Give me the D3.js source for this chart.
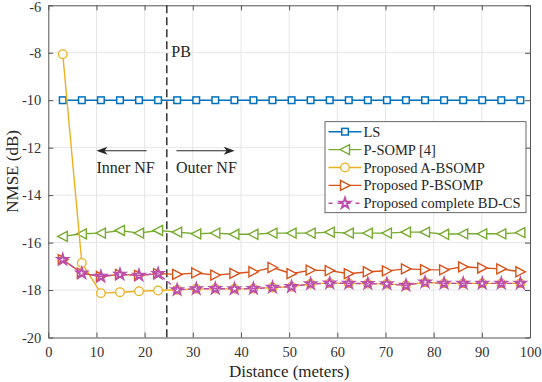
<!DOCTYPE html>
<html>
<head>
<meta charset="utf-8">
<script src="https://cdn.jsdelivr.net/npm/d3@7"></script>
<style>
  body { margin: 0; background: #fff; }
  svg, svg text { font-family: "Liberation Serif", "Times New Roman", Times, "Nimbus Roman", "DejaVu Serif", serif !important; }
</style>
</head>
<body>
<svg></svg>
<script>
// distance samples (meters)
const distance = [3, 6.96, 10.92, 14.88, 18.83, 22.79, 26.75, 30.71, 34.67, 38.63, 42.58, 46.54, 50.5,
                  54.46, 58.42, 62.38, 66.33, 70.29, 74.25, 78.21, 82.17, 86.13, 90.08, 94.04, 98]

// NMSE (dB) per method
const ls    = [-10, -10, -10, -10, -10, -10, -10, -10, -10, -10, -10, -10, -10,
               -10, -10, -10, -10, -10, -10, -10, -10, -10, -10, -10, -10]
const psomp = [-15.74, -15.63, -15.60, -15.49, -15.60, -15.49, -15.56, -15.63, -15.60, -15.65, -15.65, -15.60, -15.60,
               -15.60, -15.56, -15.60, -15.60, -15.60, -15.56, -15.56, -15.65, -15.63, -15.63, -15.63, -15.58]
const absomp = [-8.06, -16.86, -18.13, -18.09, -18.05, -18.02, -17.99, -17.95, -17.94, -17.95, -17.94, -17.89, -17.86,
                -17.74, -17.71, -17.72, -17.73, -17.74, -17.80, -17.67, -17.72, -17.72, -17.72, -17.72, -17.72]
const pbsomp = [-16.72, -17.29, -17.43, -17.34, -17.38, -17.31, -17.34, -17.28, -17.37, -17.30, -17.23, -17.05, -17.31,
                -17.16, -17.18, -17.31, -17.23, -17.19, -17.11, -17.14, -17.15, -17.02, -17.07, -17.11, -17.23]
const bdcs  = [-16.72, -17.29, -17.43, -17.34, -17.38, -17.31, -17.99, -17.95, -17.94, -17.95, -17.94, -17.89, -17.86,
               -17.74, -17.71, -17.72, -17.73, -17.74, -17.80, -17.67, -17.72, -17.72, -17.72, -17.72, -17.72]

const seriesNames = ["LS", "P-SOMP [4]", "Proposed A-BSOMP", "Proposed P-BSOMP", "Proposed complete BD-CS"]

const xTicks = [0, 10, 20, 30, 40, 50, 60, 70, 80, 90, 100]
const yTicks = [-20, -18, -16, -14, -12, -10, -8, -6]

// annotation positions in data units
const pbDistance = 24.6
const arrowY = -12.13
const innerArrow = [20.4, 10.0]
const outerArrow = [26.6, 38.7]

const width = 542, height = 382
const margin = {top: 5.3, right: 12, bottom: 44.5, left: 48.3}

const svg = d3.select("svg").attr("width", width).attr("height", height)

const x = d3.scaleLinear().domain([0, 100]).range([margin.left, width - margin.right])
const y = d3.scaleLinear().domain([-20, -6]).range([height - margin.bottom, margin.top])

const styles = [
  {color: "#0072BD", marker: "square", dash: null},
  {color: "#77AC30", marker: "left", dash: null},
  {color: "#EDB120", marker: "circle", dash: null},
  {color: "#D95319", marker: "right", dash: null},
  {color: "#BC4FAB", marker: "star", dash: "5,3"}
]
const values = [ls, psomp, absomp, pbsomp, bdcs]

// grid
svg.append("g")
  .selectAll("line")
  .data(xTicks.slice(1, -1))
  .join("line")
    .attr("x1", d => x(d)).attr("x2", d => x(d))
    .attr("y1", y(-20)).attr("y2", y(-6))
    .attr("stroke", "#e6e6e6")
svg.append("g")
  .selectAll("line")
  .data(yTicks.slice(1, -1))
  .join("line")
    .attr("x1", x(0)).attr("x2", x(100))
    .attr("y1", d => y(d)).attr("y2", d => y(d))
    .attr("stroke", "#e6e6e6")

// axes (inward ticks, box all around)
const fmt = d => String(d)
const axisStyle = g => {
  g.attr("font-family", null)
  g.select(".domain").attr("stroke", "#555")
  g.selectAll(".tick line").attr("stroke", "#555")
  g.selectAll(".tick text").attr("fill", "#333").style("font-size", "14.5px")
}
svg.append("g").attr("transform", `translate(0,${y(-20)})`)
  .call(d3.axisBottom(x).tickValues(xTicks).tickFormat(fmt).tickSizeInner(-5).tickSizeOuter(0).tickPadding(9))
  .call(axisStyle)
svg.append("g").attr("transform", `translate(0,${y(-6)})`)
  .call(d3.axisTop(x).tickValues(xTicks).tickFormat("").tickSizeInner(-5).tickSizeOuter(0))
  .call(axisStyle)
svg.append("g").attr("transform", `translate(${x(0)},0)`)
  .call(d3.axisLeft(y).tickValues(yTicks).tickFormat(fmt).tickSizeInner(-5).tickSizeOuter(0).tickPadding(7))
  .call(axisStyle)
  .call(g => g.selectAll(".tick text").filter(d => d === -6).attr("dy", "0.42em"))
svg.append("g").attr("transform", `translate(${x(100)},0)`)
  .call(d3.axisRight(y).tickValues(yTicks).tickFormat("").tickSizeInner(-5).tickSizeOuter(0))
  .call(axisStyle)

// axis labels
svg.append("text")
  .attr("x", (x(0) + x(100)) / 2).attr("y", 377)
  .attr("text-anchor", "middle").attr("fill", "#262626")
  .style("font-size", "17px")
  .text("Distance (meters)")
svg.append("text")
  .attr("transform", `translate(18,${(y(-20) + y(-6)) / 2}) rotate(-90)`)
  .attr("text-anchor", "middle").attr("fill", "#262626")
  .style("font-size", "17px")
  .text("NMSE (dB)")

// PB boundary + annotations
svg.append("line")
  .attr("x1", x(pbDistance)).attr("x2", x(pbDistance))
  .attr("y1", y(-6)).attr("y2", y(-20))
  .attr("stroke", "#333").attr("stroke-width", 1.5).attr("stroke-dasharray", "8,4")
svg.append("text")
  .attr("x", x(pbDistance) + 4.5).attr("y", 56.7)
  .attr("fill", "#262626").style("font-size", "16px")
  .text("PB")

const arrow = (from, to) => {
  const x0 = x(from), x1 = x(to), yy = y(arrowY), dir = Math.sign(x1 - x0)
  svg.append("line")
    .attr("x1", x0).attr("x2", x1 - dir * 6).attr("y1", yy).attr("y2", yy)
    .attr("stroke", "#262626").attr("stroke-width", 1)
  svg.append("path")
    .attr("d", `M${x1},${yy}L${x1 - dir * 11},${yy - 4}L${x1 - dir * 8},${yy}L${x1 - dir * 11},${yy + 4}Z`)
    .attr("fill", "#262626")
}
arrow(innerArrow[0], innerArrow[1])
arrow(outerArrow[0], outerArrow[1])
svg.append("text")
  .attr("x", x(innerArrow[1])).attr("y", 172.7)
  .attr("fill", "#262626").style("font-size", "16px")
  .text("Inner NF")
svg.append("text")
  .attr("x", x(outerArrow[0]) - 0.5).attr("y", 172.7)
  .attr("fill", "#262626").style("font-size", "16px")
  .text("Outer NF")

// markers
const star = d3.symbol().type(d3.symbolStar).size(34)
function drawMarker(g, kind, color) {
  if (kind === "square") {
    g.append("rect").attr("x", -3.3).attr("y", -3.3).attr("width", 6.6).attr("height", 6.6)
      .attr("fill", "#fff").attr("stroke", color).attr("stroke-width", 1.5)
  } else if (kind === "circle") {
    g.append("circle").attr("r", 4.3)
      .attr("fill", "#fff").attr("stroke", color).attr("stroke-width", 1.3)
  } else if (kind === "left") {
    g.append("path").attr("d", "M-5,0L4.5,-5L4.5,5Z")
      .attr("fill", "#fff").attr("stroke", color).attr("stroke-width", 1.4)
  } else if (kind === "right") {
    g.append("path").attr("d", "M5,0L-4.5,-5L-4.5,5Z")
      .attr("fill", "#fff").attr("stroke", color).attr("stroke-width", 1.4)
  } else {
    g.append("path").attr("d", star)
      .attr("fill", "none").attr("stroke", color).attr("stroke-width", 1.9)
  }
}

const line = d3.line().x(d => x(d[0])).y(d => y(d[1]))

values.forEach((vals, i) => {
  const st = styles[i]
  const pts = distance.map((d, j) => [d, vals[j]])
  const g = svg.append("g")
  g.append("path")
    .attr("d", line(pts))
    .attr("fill", "none").attr("stroke", st.color).attr("stroke-width", 1.4)
    .attr("stroke-dasharray", st.dash)
  g.selectAll("g.m")
    .data(pts)
    .join("g").attr("class", "m")
      .attr("transform", d => `translate(${x(d[0])},${y(d[1])})`)
      .each(function () { drawMarker(d3.select(this), st.marker, st.color) })
})

// legend
const legend = svg.append("g")
legend.append("rect")
  .attr("x", 325).attr("y", 121.7).attr("width", 201).attr("height", 91)
  .attr("fill", "#fff").attr("stroke", "#444").attr("stroke-width", 0.8)
seriesNames.forEach((name, i) => {
  const st = styles[i], yy = 131.7 + i * 17.9
  legend.append("line")
    .attr("x1", 328.5).attr("x2", 361.5).attr("y1", yy).attr("y2", yy)
    .attr("stroke", st.color).attr("stroke-width", 1.4)
    .attr("stroke-dasharray", st.dash ? "4,5" : null)
  drawMarker(legend.append("g").attr("transform", `translate(345,${yy})`), st.marker, st.color)
  legend.append("text")
    .attr("x", 363.5).attr("y", yy + 5)
    .attr("fill", "#262626").style("font-size", "14.5px")
    .text(name)
})
</script>
</body>
</html>
